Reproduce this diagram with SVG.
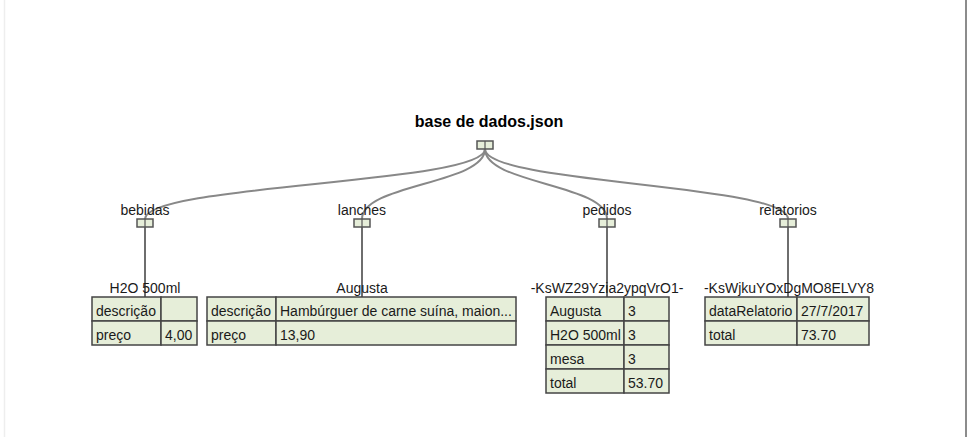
<svg xmlns="http://www.w3.org/2000/svg" width="967" height="437" viewBox="0 0 967 437">
<style>
text{font-family:"Liberation Sans",Arial,sans-serif;font-size:14px;fill:#1a1a1a}
.root{font-weight:bold;font-size:16px;fill:#000}
.mid{text-anchor:middle}
.box{fill:#e6eed9;stroke:#555;stroke-width:1.5}
.cell{fill:#e6eed9;stroke:#444;stroke-width:1.5}
.curve{fill:none;stroke:#888;stroke-width:2}
.vline{fill:none;stroke:#6e6e6e;stroke-width:2}
.div{stroke:#555;stroke-width:1.2}
</style>
<rect x="0" y="0" width="967" height="437" fill="#fff"/>
<line x1="4.5" y1="0" x2="4.5" y2="437" stroke="#eeeeee" stroke-width="1.5"/>
<line x1="966" y1="0" x2="966" y2="437" stroke="#8c8c8c" stroke-width="2"/>
<g id="connectors">
<path class="curve" d="M485,149 C485,184 145,184 145,219"/>
<path class="curve" d="M485,149 C485,184 362,184 362,219"/>
<path class="curve" d="M485,149 C485,184 607,184 607,219"/>
<path class="curve" d="M485,149 C485,184 788,184 788,219"/>
<line class="vline" x1="145" y1="223" x2="145" y2="297"/>
<line class="vline" x1="362" y1="223" x2="362" y2="297"/>
<line class="vline" x1="607" y1="223" x2="607" y2="297"/>
<line class="vline" x1="788" y1="223" x2="788" y2="297"/>
</g>
<g id="root">
<text class="root mid" x="489" y="127">base de dados.json</text>
<rect class="box" x="477" y="141" width="16" height="8"/>
<line class="div" x1="485" y1="141" x2="485" y2="149"/>
</g>
<g id="bebidas">
<text class="mid" x="145" y="215">bebidas</text>
<rect class="box" x="137" y="219" width="16" height="8"/>
<line class="div" x1="145" y1="219" x2="145" y2="227"/>
</g>
<g id="lanches">
<text class="mid" x="362" y="215">lanches</text>
<rect class="box" x="354" y="219" width="16" height="8"/>
<line class="div" x1="362" y1="219" x2="362" y2="227"/>
</g>
<g id="pedidos">
<text class="mid" x="607" y="215">pedidos</text>
<rect class="box" x="599" y="219" width="16" height="8"/>
<line class="div" x1="607" y1="219" x2="607" y2="227"/>
</g>
<g id="relatorios">
<text class="mid" x="788" y="215">relatorios</text>
<rect class="box" x="780" y="219" width="16" height="8"/>
<line class="div" x1="788" y1="219" x2="788" y2="227"/>
</g>
<g id="h2o">
<text class="mid" x="145" y="293">H2O 500ml</text>
<rect class="cell" x="92" y="297" width="69" height="24"/>
<rect class="cell" x="161" y="297" width="36" height="24"/>
<rect class="cell" x="92" y="321" width="69" height="24"/>
<rect class="cell" x="161" y="321" width="36" height="24"/>
<text x="96" y="316">descrição</text>
<text x="96" y="340">preço</text>
<text x="165" y="340">4,00</text>
</g>
<g id="augusta">
<text class="mid" x="362" y="293">Augusta</text>
<rect class="cell" x="207" y="297" width="69" height="24"/>
<rect class="cell" x="276" y="297" width="240" height="24"/>
<rect class="cell" x="207" y="321" width="69" height="24"/>
<rect class="cell" x="276" y="321" width="240" height="24"/>
<text x="211" y="316">descrição</text>
<text x="280" y="316">Hambúrguer de carne suína, maion...</text>
<text x="211" y="340">preço</text>
<text x="280" y="340">13,90</text>
</g>
<g id="pedido1">
<text class="mid" x="607" y="293">-KsWZ29Yzia2ypqVrO1-</text>
<rect class="cell" x="546" y="297" width="78" height="24"/>
<rect class="cell" x="624" y="297" width="45" height="24"/>
<rect class="cell" x="546" y="321" width="78" height="24"/>
<rect class="cell" x="624" y="321" width="45" height="24"/>
<rect class="cell" x="546" y="345" width="78" height="24"/>
<rect class="cell" x="624" y="345" width="45" height="24"/>
<rect class="cell" x="546" y="369" width="78" height="24"/>
<rect class="cell" x="624" y="369" width="45" height="24"/>
<text x="550" y="316">Augusta</text>
<text x="628" y="316">3</text>
<text x="550" y="340">H2O 500ml</text>
<text x="628" y="340">3</text>
<text x="550" y="364">mesa</text>
<text x="628" y="364">3</text>
<text x="550" y="388">total</text>
<text x="628" y="388">53.70</text>
</g>
<g id="relatorio1">
<text class="mid" x="789" y="293">-KsWjkuYOxDgMO8ELVY8</text>
<rect class="cell" x="705" y="297" width="92" height="24"/>
<rect class="cell" x="797" y="297" width="72" height="24"/>
<rect class="cell" x="705" y="321" width="92" height="24"/>
<rect class="cell" x="797" y="321" width="72" height="24"/>
<text x="709" y="316">dataRelatorio</text>
<text x="801" y="316">27/7/2017</text>
<text x="709" y="340">total</text>
<text x="801" y="340">73.70</text>
</g>
</svg>
